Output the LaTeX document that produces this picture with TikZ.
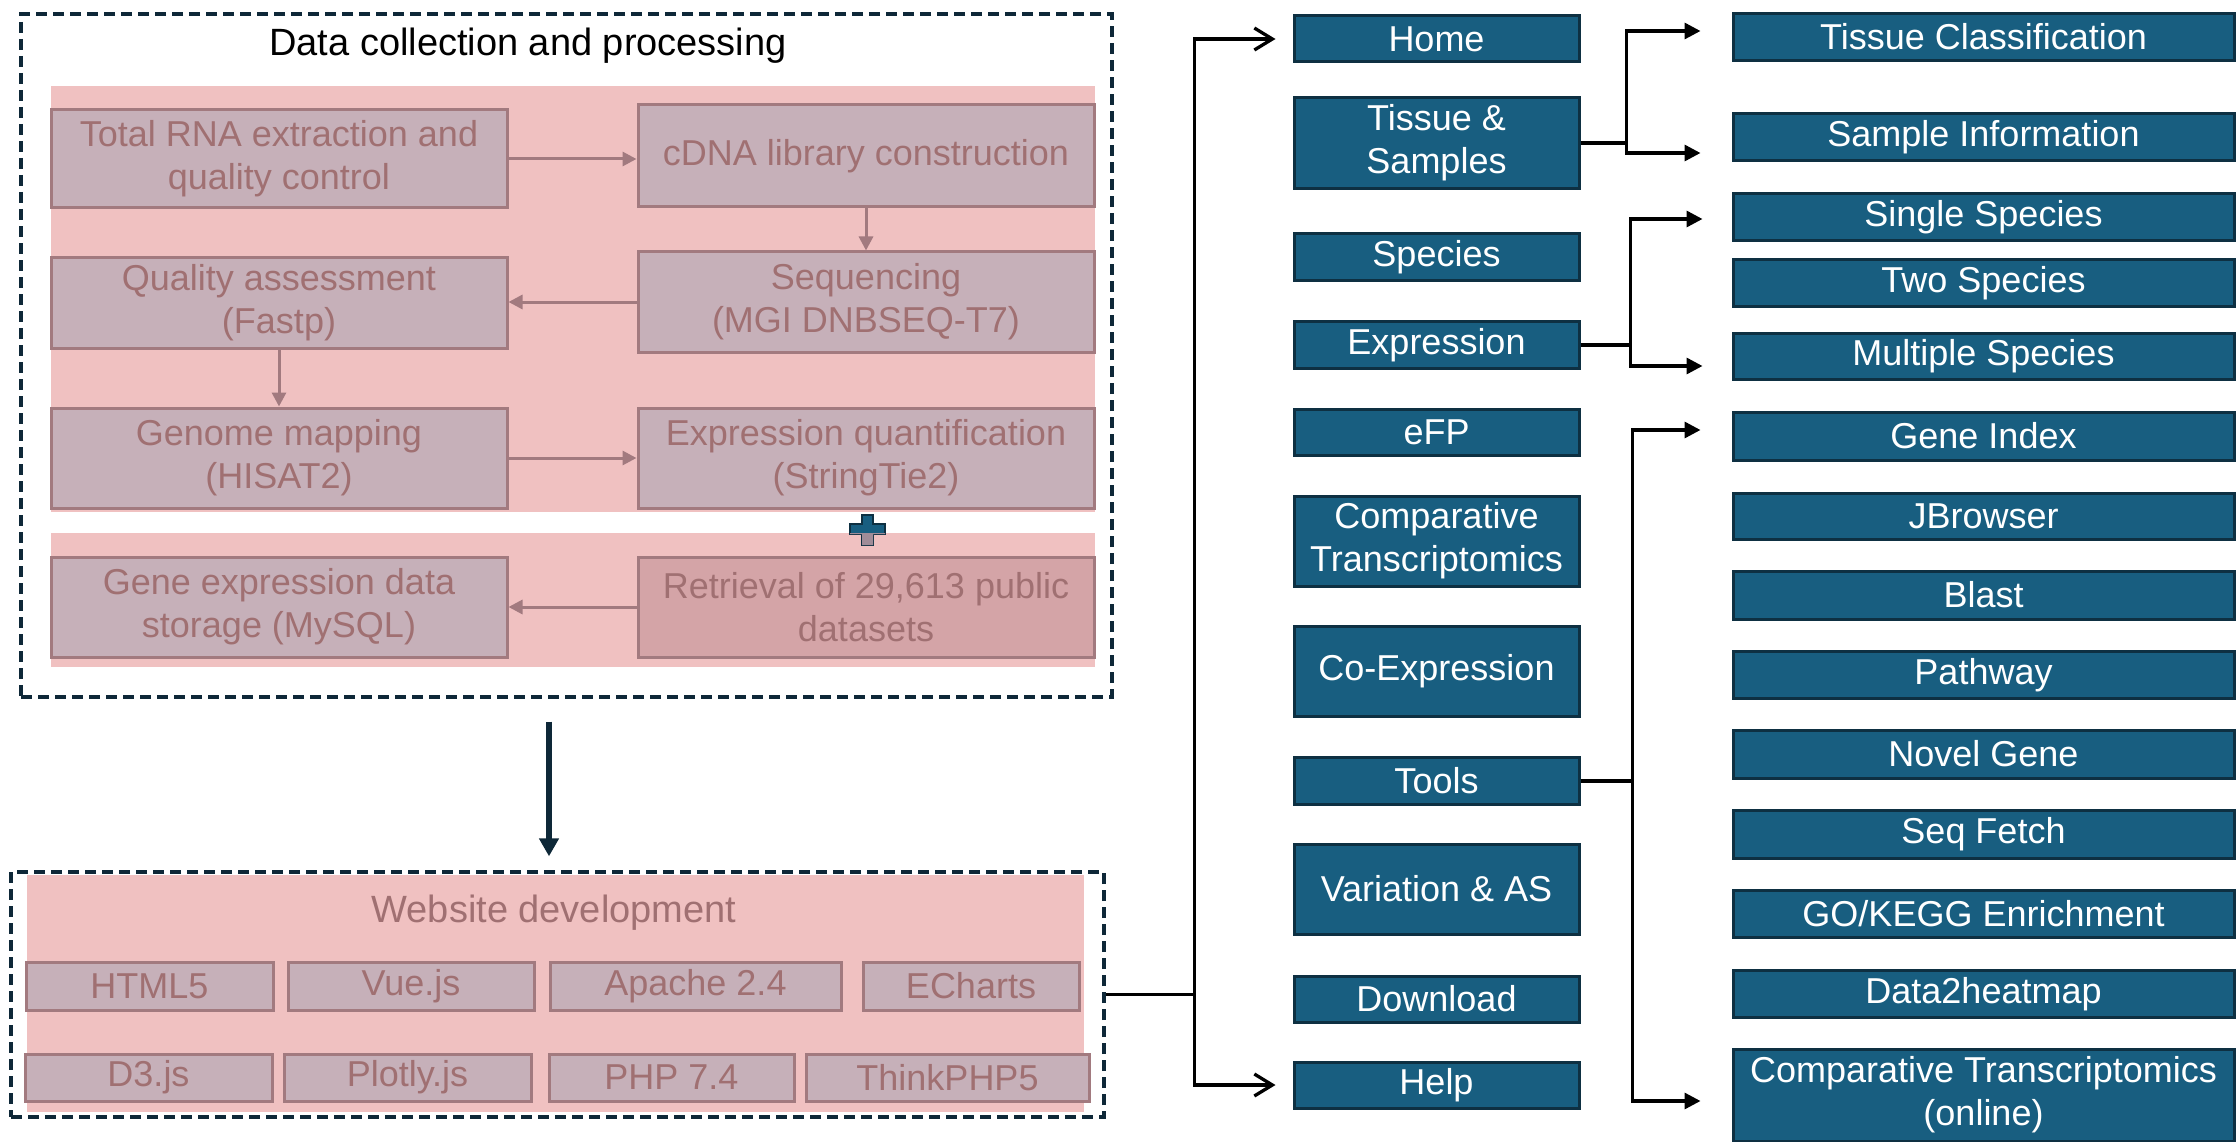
\documentclass[tikz,border=0pt]{standalone}
\usepackage{fontspec}
\setmainfont{Liberation Sans}
\usetikzlibrary{arrows.meta}

\definecolor{navteal}{RGB}{24,94,128}
\definecolor{navedge}{RGB}{14,48,66}
\definecolor{frameblue}{RGB}{14,40,56}
\definecolor{bandpink}{RGB}{240,193,193}
\definecolor{stepfill}{RGB}{198,176,185}
\definecolor{stepedge}{RGB}{162,122,127}
\definecolor{steptext}{RGB}{160,112,114}
\definecolor{fetchfill}{RGB}{212,164,167}
\definecolor{plusgrey}{RGB}{160,140,152}

\newcommand{\bigtext}{\fontsize{36}{43}\selectfont}
\newcommand{\titletext}{\fontsize{38}{45}\selectfont}
\newcommand{\pluspath}{(862,515) -- (873,515) -- (873,524) -- (885,524) -- (885,534) -- (873,534) -- (873,545) -- (862,545) -- (862,534) -- (850,534) -- (850,524) -- (862,524) -- cycle}

\tikzset{
  frame/.style={draw=frameblue, line width=3.3pt, dash pattern=on 11pt off 6pt, inner sep=0pt},
  stepbox/.style={draw=stepedge, line width=3pt, fill=stepfill, text=steptext, minimum width=456pt, minimum height=100pt, inner sep=0pt, align=center, font=\bigtext},
  techbox/.style={stepbox, minimum height=48pt},
  navbox/.style={draw=navedge, line width=3pt, fill=navteal, text=white, minimum height=46pt, inner sep=0pt, align=center, font=\bigtext},
  leftnav/.style={navbox, minimum width=285pt},
  subnav/.style={navbox, minimum width=501pt},
  stepflow/.style={draw=stepedge, line width=3pt, -{Triangle[length=14pt,width=14pt]}},
  navyarrow/.style={draw=frameblue, line width=6pt, -{Triangle[length=18pt,width=19pt]}},
  treeline/.style={draw=black, line width=3.3pt},
  treearrow/.style={treeline, -{Triangle[length=16pt,width=16pt]}},
  barbarrow/.style={treeline, -{Straight Barb[length=18pt,width=22pt]}}
}

\begin{document}
\begin{tikzpicture}[x=1pt,y=-1pt]
\useasboundingbox (0,0) rectangle (2236,1142);

% pipeline panel
\node[frame, minimum width=1091pt, minimum height=683pt] (dataframe) at (566.5,355.5) {};
\node[font=\titletext] (datatitle) at (528,46) {Data collection and processing};
\fill[bandpink] (51,86) rectangle (1095,512);
\fill[bandpink] (51,533) rectangle (1095,667);

\node[stepbox, minimum height=98pt] (rna) at (279,159) {Total RNA extraction and\\quality control};
\node[stepbox, minimum height=102pt] (cdna) at (866,156) {cDNA library construction};
\node[stepbox, minimum height=90pt] (qa) at (279,303) {Quality assessment\\(Fastp)};
\node[stepbox] (seq) at (866,302) {Sequencing\\(MGI DNBSEQ-T7)};
\node[stepbox] (map) at (279,458) {Genome mapping\\(HISAT2)};
\node[stepbox] (quant) at (866,458) {Expression quantification\\(StringTie2)};
\node[stepbox] (store) at (279,607) {Gene expression data\\storage (MySQL)};
\node[stepbox, fill=fetchfill] (fetch) at (866,607) {Retrieval of 29,613 public\\datasets};

\filldraw[fill=navteal, draw=navedge, line width=1.5pt] \pluspath;
\begin{scope}
  \clip (840,533) rectangle (895,550);
  \fill[plusgrey] \pluspath;
\end{scope}

\draw[stepflow] (rna.east) -- (rna.east -| cdna.west);
\draw[stepflow] (cdna.south) -- (seq.north);
\draw[stepflow] (seq.west) -- (seq.west -| qa.east);
\draw[stepflow] (qa.south) -- (map.north);
\draw[stepflow] (map.east) -- (map.east -| quant.west);
\draw[stepflow] (fetch.west) -- (fetch.west -| store.east);

% website panel
\node[frame, minimum width=1093pt, minimum height=245pt] (webframe) at (557.5,994.5) {};
\fill[bandpink] (27,875) rectangle (1084,1112);
\node[font=\titletext, text=steptext] (webtitle) at (554,913) {Website development};

\node[techbox, minimum width=247pt] (html) at (149.5,986) {HTML5};
\node[techbox, minimum width=246pt] (vue) at (411,986) {Vue.js};
\node[techbox, minimum width=291pt] (apache) at (695.5,986) {Apache 2.4};
\node[techbox, minimum width=216pt] (echarts) at (971,986) {ECharts};
\node[techbox, minimum width=247pt, minimum height=47pt] (d3) at (148.5,1077.5) {D3.js};
\node[techbox, minimum width=247pt, minimum height=47pt] (plotly) at (407.5,1077.5) {Plotly.js};
\node[techbox, minimum width=245pt, minimum height=47pt] (php) at (671.5,1077.5) {PHP 7.4};
\node[techbox, minimum width=283pt, minimum height=47pt] (thinkphp) at (947.5,1077.5) {ThinkPHP5};

\draw[navyarrow, shorten <=23pt, shorten >=14pt] ([xshift=-17.5pt]dataframe.south) -- ([xshift=-17.5pt]dataframe.south |- webframe.north);

% site menu
\node[leftnav] (home) at (1436.5,39) {Home};
\node[leftnav, minimum height=91pt] (tissue) at (1436.5,143) {Tissue \&\\Samples};
\node[leftnav] (species) at (1436.5,257) {Species};
\node[leftnav, minimum height=47pt] (expr) at (1436.5,345) {Expression};
\node[leftnav] (efp) at (1436.5,432) {eFP};
\node[leftnav, minimum height=90pt] (comp) at (1436.5,541) {Comparative\\Transcriptomics};
\node[leftnav, minimum height=90pt] (coexpr) at (1436.5,671) {Co-Expression};
\node[leftnav, minimum height=47pt] (tools) at (1436.5,781) {Tools};
\node[leftnav, minimum height=90pt] (variation) at (1436.5,889) {Variation \& AS};
\node[leftnav] (download) at (1436.5,999) {Download};
\node[leftnav] (help) at (1436.5,1085) {Help};

\node[subnav, minimum height=47pt] (tc) at (1983.5,37) {Tissue Classification};
\node[subnav, minimum height=47pt] (si) at (1983.5,137) {Sample Information};
\node[subnav, minimum height=47pt] (single) at (1983.5,217) {Single Species};
\node[subnav, minimum height=47pt] (two) at (1983.5,283) {Two Species};
\node[subnav] (multi) at (1983.5,356) {Multiple Species};
\node[subnav, minimum height=48pt] (geneidx) at (1983.5,436) {Gene Index};
\node[subnav] (jbrowse) at (1983.5,516) {JBrowser};
\node[subnav, minimum height=48pt] (blast) at (1983.5,595) {Blast};
\node[subnav, minimum height=47pt] (pathway) at (1983.5,675) {Pathway};
\node[subnav, minimum height=48pt] (novel) at (1983.5,754) {Novel Gene};
\node[subnav, minimum height=48pt] (seqfetch) at (1983.5,834) {Seq Fetch};
\node[subnav, minimum height=47pt] (gokegg) at (1983.5,914) {GO/KEGG Enrichment};
\node[subnav, minimum height=47pt] (heatmap) at (1983.5,994) {Data2heatmap};
\node[subnav, minimum height=92pt] (componline) at (1983.5,1095) {Comparative Transcriptomics\\(online)};

\coordinate (navtrunk) at ([xshift=89pt]webframe.east);
\draw[treeline] (webframe.east) -- (navtrunk);
\draw[barbarrow, shorten >=17pt] (navtrunk) |- (home.west);
\draw[barbarrow, shorten >=17pt] (navtrunk) |- (help.west);

\coordinate (tissuefork) at ([xshift=46pt]tissue.east);
\coordinate (tcend) at ([xshift=-31pt,yshift=6pt]tc.west);
\coordinate (siend) at ([xshift=-31pt,yshift=-16pt]si.west);
\draw[treeline] (tissue.east) -- (tissuefork);
\draw[treearrow] (tissuefork) |- (tcend);
\draw[treearrow] (tissuefork) |- (siend);

\coordinate (exprfork) at ([xshift=50pt]expr.east);
\coordinate (singleend) at ([xshift=-29pt,yshift=-2pt]single.west);
\coordinate (multiend) at ([xshift=-29pt,yshift=-10pt]multi.west);
\draw[treeline] (expr.east) -- (exprfork);
\draw[treearrow] (exprfork) |- (singleend);
\draw[treearrow] (exprfork) |- (multiend);

\coordinate (toolsfork) at ([xshift=52pt]tools.east);
\coordinate (geneend) at ([xshift=-31pt,yshift=6pt]geneidx.west);
\coordinate (onlineend) at ([xshift=-31pt,yshift=-6pt]componline.west);
\draw[treeline] (tools.east) -- (toolsfork);
\draw[treearrow] (toolsfork) |- (geneend);
\draw[treearrow] (toolsfork) |- (onlineend);
\end{tikzpicture}
\end{document}
